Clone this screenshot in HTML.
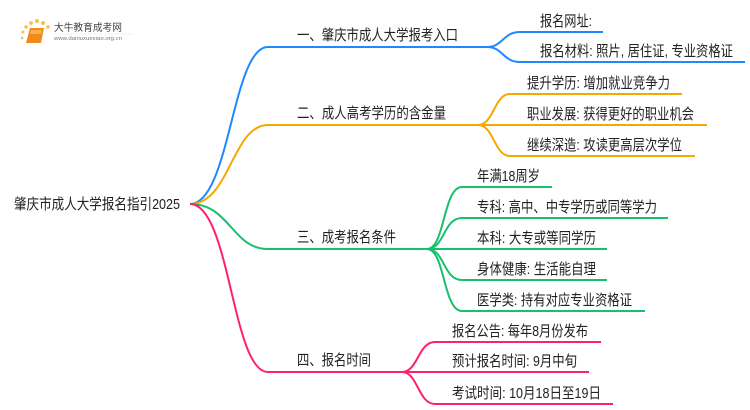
<!DOCTYPE html>
<html><head><meta charset="utf-8"><style>
html,body{margin:0;padding:0;background:#fff;width:750px;height:410px;overflow:hidden}
text{font-family:"Liberation Sans","Noto Sans CJK SC",sans-serif;font-size:15px;fill:#222}
</style></head><body>
<svg width="750" height="410" viewBox="0 0 750 410" xmlns="http://www.w3.org/2000/svg">
<g>
<circle cx="22" cy="38" r="1.3" fill="#f7c046"/><circle cx="23" cy="32" r="1.5" fill="#f7c046"/>
<circle cx="26" cy="27" r="1.7" fill="#f7c046"/><circle cx="31" cy="23" r="1.9" fill="#f7c046"/>
<circle cx="37" cy="21" r="2" fill="#f7c046"/><circle cx="43" cy="23" r="2" fill="#f7c046"/>
<circle cx="48" cy="27" r="1.8" fill="#f7c046"/>
<path d="M30,28 L44,28 L41,43 L26,43 Z" fill="#f08a1c"/>
<path d="M31,30 L42,30 L41,34 L30,34 Z" fill="#f9b24a"/>
<text x="54" y="31" textLength="68" lengthAdjust="spacingAndGlyphs" style="font-size:10px;fill:#444">大牛教育成考网</text>
<text x="54" y="40" textLength="68" lengthAdjust="spacingAndGlyphs" style="font-size:5px;fill:#777">www.daniuxuexiao.org.cn</text>
<line x1="54" y1="34" x2="132" y2="34" stroke="#e5e5e5" stroke-width="0.5"/>
</g>
<g fill="none" stroke-width="2">
<path d="M190,204 C230,204 232,47 268,47 L487,47" stroke="#1e88ff"/>
<path d="M190,204 C230,204 232,125 268,125 L478,125" stroke="#f5a800"/>
<path d="M190,204 C230,204 232,249 268,249 L427,249" stroke="#17c06b"/>
<path d="M190,204 C230,204 232,372 268,372 L402,372" stroke="#ff1f6f"/>
<path d="M487,47 C503,47 503,32 520,32 L603,32" stroke="#1e88ff"/>
<path d="M487,47 C503,47 503,62 520,62 L745,62" stroke="#1e88ff"/>
<path d="M478,125 C494,125 494,94 510,94 L682,94" stroke="#f5a800"/>
<path d="M478,125 L707,125" stroke="#f5a800"/>
<path d="M478,125 C494,125 494,156 510,156 L695,156" stroke="#f5a800"/>
<path d="M427,249 C445,249 443,187 462,187 L552,187" stroke="#17c06b"/>
<path d="M427,249 C445,249 443,218 462,218 L668,218" stroke="#17c06b"/>
<path d="M427,249 L607,249" stroke="#17c06b"/>
<path d="M427,249 C445,249 443,280 462,280 L607,280" stroke="#17c06b"/>
<path d="M427,249 C445,249 443,311 462,311 L645,311" stroke="#17c06b"/>
<path d="M402,372 C418,372 418,342 435,342 L601,342" stroke="#ff1f6f"/>
<path d="M402,372 L589,372" stroke="#ff1f6f"/>
<path d="M402,372 C418,372 418,404 435,404 L613,404" stroke="#ff1f6f"/>
</g>
<text x="14" y="209" textLength="166" lengthAdjust="spacingAndGlyphs">肇庆市成人大学报名指引2025</text>
<text x="297" y="40" textLength="161" lengthAdjust="spacingAndGlyphs">一、肇庆市成人大学报考入口</text>
<text x="297" y="118" textLength="149" lengthAdjust="spacingAndGlyphs">二、成人高考学历的含金量</text>
<text x="297" y="242" textLength="99" lengthAdjust="spacingAndGlyphs">三、成考报名条件</text>
<text x="297" y="365" textLength="74" lengthAdjust="spacingAndGlyphs">四、报名时间</text>
<text x="540" y="26" textLength="52" lengthAdjust="spacingAndGlyphs">报名网址:</text>
<text x="540" y="56" textLength="193" lengthAdjust="spacingAndGlyphs">报名材料: 照片, 居住证, 专业资格证</text>
<text x="527" y="88" textLength="143" lengthAdjust="spacingAndGlyphs">提升学历: 增加就业竞争力</text>
<text x="527" y="119" textLength="167" lengthAdjust="spacingAndGlyphs">职业发展: 获得更好的职业机会</text>
<text x="527" y="150" textLength="155" lengthAdjust="spacingAndGlyphs">继续深造: 攻读更高层次学位</text>
<text x="477" y="181" textLength="63" lengthAdjust="spacingAndGlyphs">年满18周岁</text>
<text x="477" y="212" textLength="180" lengthAdjust="spacingAndGlyphs">专科: 高中、中专学历或同等学力</text>
<text x="477" y="243" textLength="119" lengthAdjust="spacingAndGlyphs">本科: 大专或等同学历</text>
<text x="477" y="274" textLength="119" lengthAdjust="spacingAndGlyphs">身体健康: 生活能自理</text>
<text x="477" y="305" textLength="155" lengthAdjust="spacingAndGlyphs">医学类: 持有对应专业资格证</text>
<text x="452" y="336" textLength="136" lengthAdjust="spacingAndGlyphs">报名公告: 每年8月份发布</text>
<text x="452" y="366" textLength="125" lengthAdjust="spacingAndGlyphs">预计报名时间: 9月中旬</text>
<text x="452" y="398" textLength="149" lengthAdjust="spacingAndGlyphs">考试时间: 10月18日至19日</text>
</svg>
</body></html>
